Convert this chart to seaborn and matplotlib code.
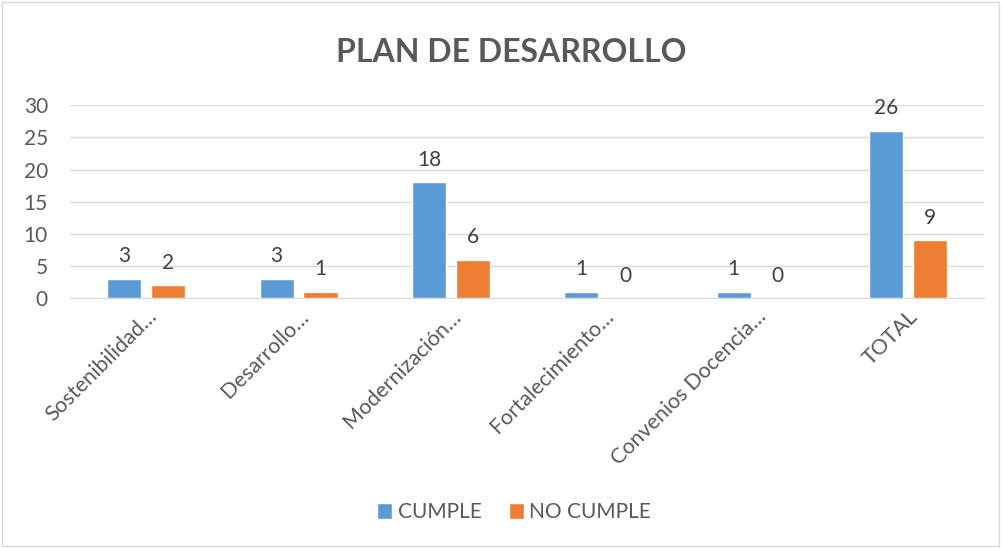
import pandas as pd
import matplotlib.pyplot as plt
import seaborn as sns
from matplotlib.patches import Rectangle, Patch

# data
categorias = ["Sostenibilidad…", "Desarrollo…", "Modernización…",
              "Fortalecimiento…", "Convenios Docencia…", "TOTAL"]
cumple = [3, 3, 18, 1, 1, 26]
no_cumple = [2, 1, 6, 0, 0, 9]
series = ["CUMPLE", "NO CUMPLE"]
colores = ["#5B9BD5", "#ED7D31"]

df = pd.DataFrame({
    "categoria": categorias * 2,
    "valor": cumple + no_cumple,
    "serie": [series[0]] * len(categorias) + [series[1]] * len(categorias),
})

sns.set_style("white")
plt.rcParams["font.family"] = ["Lato", "DejaVu Sans"]

fig = plt.figure(figsize=(10.02, 5.48), dpi=100)
ax = fig.add_axes([0.070, 0.456, 0.912, 0.352])

sns.barplot(data=df, x="categoria", y="valor", hue="serie", palette=colores,
            width=0.575, gap=0.22, ax=ax, legend=False, saturation=1)

for cont in ax.containers:
    ax.bar_label(cont, padding=9, fontsize=15, color="#404040")

ax.set_ylim(0, 30)
ax.set_yticks(range(0, 31, 5))
ax.set_xlim(-0.5, len(categorias) - 0.5)
ax.yaxis.grid(True, color="#D9D9D9", linewidth=1)
ax.set_axisbelow(True)
for s in ["left", "right", "top"]:
    ax.spines[s].set_visible(False)
ax.spines["bottom"].set_color("#D9D9D9")
ax.tick_params(axis="y", length=0, labelsize=15, labelcolor="#595959", pad=16)
ax.tick_params(axis="x", length=0, labelsize=15.5, labelcolor="#595959", pad=6)
ax.set_xlabel("")
ax.set_ylabel("")
plt.setp(ax.get_xticklabels(), rotation=45, ha="right", rotation_mode="anchor")

fig.text(0.51, 0.905, "PLAN DE DESARROLLO", ha="center", va="center",
         fontsize=23, fontweight="bold", color="#595959")

handles = [Patch(facecolor=c, label=s) for c, s in zip(colores, series)]
fig.legend(handles=handles, loc="center", bbox_to_anchor=(0.513, 0.065), ncol=2,
           frameon=False, fontsize=15, labelcolor="#595959", handlelength=0.75,
           handleheight=0.75, handletextpad=0.25, columnspacing=1.3)

fig.patches.append(Rectangle((0.002, 0.003), 0.995, 0.993, transform=fig.transFigure,
                             fill=False, edgecolor="#D9D9D9", linewidth=1))

plt.savefig("out.png", dpi=100)
